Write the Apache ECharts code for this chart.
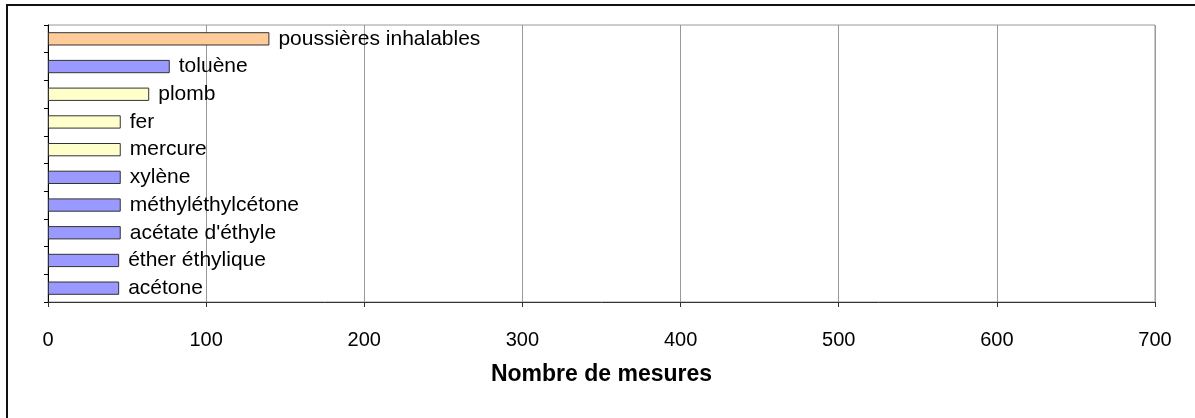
<!DOCTYPE html>
<html>
<head>
<meta charset="utf-8">
<script src="https://cdn.jsdelivr.net/npm/echarts@6/dist/echarts.min.js"></script>
<style>html,body{margin:0;padding:0;background:#fff}#c{width:1195px;height:418px}</style>
</head>
<body>
<div id="c"></div>
<script>
const categories = ["poussières inhalables","toluène","plomb","fer","mercure","xylène","méthyléthylcétone","acétate d'éthyle","éther éthylique","acétone"];
const values = [140, 77, 64, 46, 46, 46, 46, 46, 45, 45];
const groups = ["poussière","solvant","métal","métal","métal","solvant","solvant","solvant","solvant","solvant"];
const xTicks = [0, 100, 200, 300, 400, 500, 600, 700];
const axisName = "Nombre de mesures";

const groupColors = {"poussière": "#FFCC99", "solvant": "#9999FF", "métal": "#FFFFCC"};
const font = "'Liberation Sans', Arial, sans-serif";

const chart = echarts.init(document.getElementById('c'), null, {renderer: 'canvas'});
chart.setOption({
  animation: false,
  backgroundColor: '#fff',
  grid: {left: 48, right: 40, top: 25, bottom: 116, show: true, borderColor: '#999', borderWidth: 1},
  graphic: [{
    type: 'rect', shape: {x: 7, y: 5, width: 1200, height: 430},
    style: {fill: 'none', stroke: '#111', lineWidth: 2}, silent: true
  }],
  xAxis: {
    type: 'value', min: xTicks[0], max: xTicks[xTicks.length - 1], interval: 100,
    name: axisName, nameLocation: 'middle', nameGap: 61,
    nameTextStyle: {fontFamily: font, fontSize: 23, fontWeight: 'bold', color: '#000'},
    axisLine: {show: true, lineStyle: {color: '#333', width: 1}},
    axisTick: {show: true, length: 5, lineStyle: {color: '#333'}},
    axisLabel: {margin: 28, fontFamily: font, fontSize: 20, color: '#000'},
    splitLine: {show: true, lineStyle: {color: '#999', width: 1}}
  },
  yAxis: {
    type: 'category', data: categories, inverse: true,
    axisLine: {show: true, lineStyle: {color: '#000', width: 1}},
    axisTick: {show: true, length: 4, lineStyle: {color: '#000'}},
    axisLabel: {show: false},
    splitLine: {show: false}
  },
  series: [{
    type: 'bar', barWidth: '48%',
    data: values.map((v, i) => ({value: v, itemStyle: {color: groupColors[groups[i]]}})),
    itemStyle: {borderColor: '#333', borderWidth: 1},
    label: {show: true, position: 'right', distance: 9, formatter: '{b}',
      fontFamily: font, fontSize: 21, color: '#000'}
  }]
});
</script>
</body>
</html>
